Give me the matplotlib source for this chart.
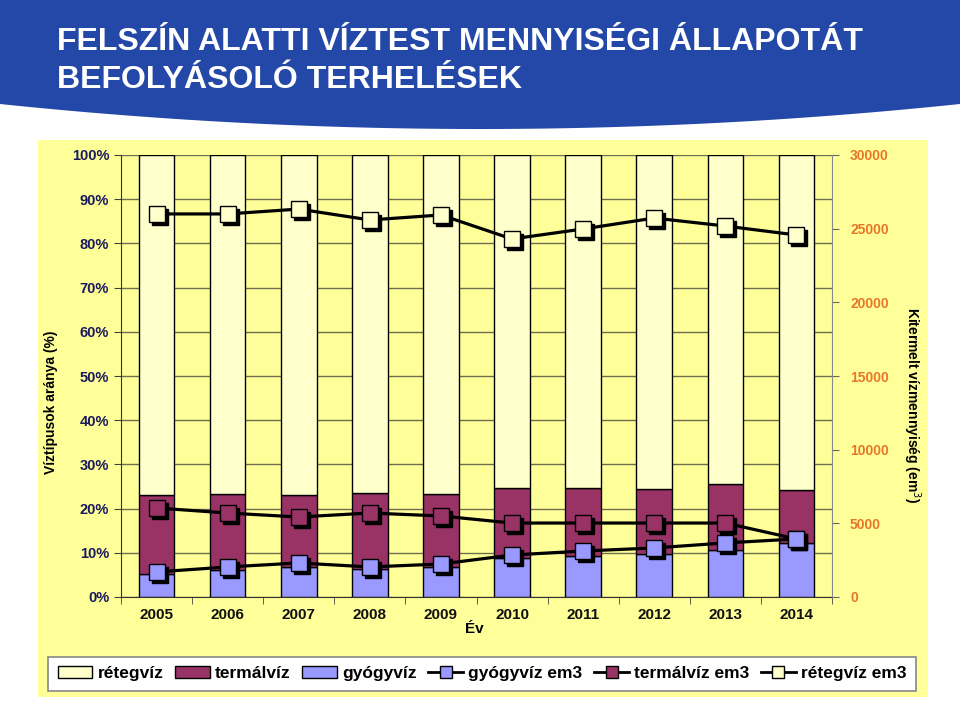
import matplotlib
matplotlib.use('Agg')
import matplotlib.pyplot as plt
import matplotlib.transforms as mtransforms
from matplotlib.patches import Rectangle, Patch
from matplotlib.lines import Line2D
import numpy as np

plt.rcParams['font.family'] = ['Liberation Sans', 'DejaVu Sans']

evek = ['2005', '2006', '2007', '2008', '2009', '2010', '2011', '2012', '2013', '2014']

# aranyok (%) - oszlopok
gyogyviz = [5.2, 6.1, 6.8, 6.3, 6.8, 8.8, 9.3, 9.7, 10.6, 12.2]
termalviz = [17.9, 17.2, 16.3, 17.2, 16.5, 15.9, 15.4, 14.7, 15.0, 12.0]
retegviz = [76.9, 76.7, 76.9, 76.5, 76.7, 75.3, 75.3, 75.6, 74.4, 75.8]

# kitermelt mennyiseg (em3) - vonalak
gyogy_em3 = [1700, 2040, 2310, 2040, 2240, 2850, 3120, 3330, 3670, 3940]
termal_em3 = [6040, 5700, 5430, 5700, 5500, 5020, 5020, 5020, 5020, 3940]
reteg_em3 = [26000, 26000, 26330, 25590, 25930, 24300, 24980, 25720, 25180, 24570]

c_reteg = '#FFFFCC'
c_termal = '#993366'
c_gyogy = '#9999FF'
c_hatter = '#FFFF99'
navy = '#1A1A5E'
narancs = '#E8762B'

fig = plt.figure(figsize=(9.6, 7.02), dpi=100)

#-------------- fejlec es hatter
bg = fig.add_axes([0, 0, 1, 1], zorder=-10)
bg.set_xlim(0, 960)
bg.set_ylim(702, 0)
bg.axis('off')
xx = np.linspace(0, 960, 300)
also_el = 104 + 25 * (1 - ((xx - 480) / 480) ** 2)
bg.fill_between(xx, 0, also_el, color='#2448A8', lw=0)
bg.add_patch(Rectangle((38, 140), 890, 557, color=c_hatter, lw=0))

fig.text(57 / 960, (702 - 50) / 702, 'FELSZÍN ALATTI VÍZTEST MENNYISÉGI ÁLLAPOTÁT',
         color='white', fontsize=23, fontweight='bold', va='baseline')
fig.text(57 / 960, (702 - 88) / 702, 'BEFOLYÁSOLÓ TERHELÉSEK',
         color='white', fontsize=23, fontweight='bold', va='baseline')

#-------------- oszlopok
ax = fig.add_axes([121 / 960, 105 / 702, 711 / 960, 442 / 702])
ax.set_facecolor(c_hatter)
x = np.arange(len(evek))
w = 0.5
also = np.array(gyogyviz)
ax.bar(x, gyogyviz, w, color=c_gyogy, edgecolor='black', lw=1, zorder=2)
ax.bar(x, termalviz, w, bottom=also, color=c_termal, edgecolor='black', lw=1, zorder=2)
also = also + np.array(termalviz)
ax.bar(x, retegviz, w, bottom=also, color=c_reteg, edgecolor='black', lw=1, zorder=2)

ax.set_xlim(-0.5, len(evek) - 0.5)
ax.set_ylim(0, 100)
ax.set_yticks(range(0, 101, 10))
ax.set_yticklabels([f'{v}%' for v in range(0, 101, 10)])
ax.yaxis.grid(True, color='#6E6E50', lw=1, zorder=0)
ax.set_axisbelow(True)
ax.set_xticks(x)
ax.set_xticklabels(evek)
ax.set_xticks(np.arange(-0.5, len(evek), 1), minor=True)
ax.tick_params(axis='x', which='major', length=0, pad=8, labelsize=11, labelcolor='#111111')
ax.tick_params(axis='x', which='minor', length=5, direction='out', color='#444444')
ax.tick_params(axis='y', length=5, color='#444444', labelsize=10.5, labelcolor=navy)
for t in ax.get_xticklabels() + ax.get_yticklabels():
    t.set_fontweight('bold')
for s in ['top', 'right']:
    ax.spines[s].set_visible(False)
ax.spines['left'].set_color('#333333')
ax.spines['bottom'].set_color('#333333')
ax.set_xlabel('Év', fontsize=11, fontweight='bold', labelpad=0, x=0.497)
ax.set_ylabel('Víztípusok aránya (%)', fontsize=10, fontweight='bold', labelpad=10, y=0.44)

#-------------- vonalak
ax2 = ax.twinx()
ax2.set_ylim(0, 30000)
ax2.set_yticks(range(0, 30001, 5000))
ax2.tick_params(axis='y', length=5, color='#666666', labelsize=10, labelcolor=narancs, pad=8)
for t in ax2.get_yticklabels():
    t.set_fontweight('bold')
for s in ['top', 'left', 'bottom']:
    ax2.spines[s].set_visible(False)
ax2.spines['right'].set_color('#888888')
ax2.set_ylabel('Kitermelt vízmennyiség (em$^3$)', fontsize=10, fontweight='bold',
               rotation=-90, labelpad=24, y=0.435)

arnyek = mtransforms.offset_copy(ax2.transData, fig=fig, x=3, y=-3, units='dots')
for adat, szin in [(reteg_em3, c_reteg), (termal_em3, c_termal), (gyogy_em3, c_gyogy)]:
    ax2.plot(x, adat, color='black', lw=2.3, zorder=3)
    ax2.plot(x, adat, ls='none', marker='s', ms=11, color='black', transform=arnyek, zorder=4)
    ax2.plot(x, adat, ls='none', marker='s', ms=11, mfc=szin, mec='black', mew=1, zorder=5)

#-------------- jelmagyarazat
kezek = [
    Patch(facecolor=c_reteg, edgecolor='black', label='rétegvíz'),
    Patch(facecolor=c_termal, edgecolor='black', label='termálvíz'),
    Patch(facecolor=c_gyogy, edgecolor='black', label='gyógyvíz'),
    Line2D([], [], color='black', lw=2, marker='s', ms=9, mfc=c_gyogy, mec='black', label='gyógyvíz em3'),
    Line2D([], [], color='black', lw=2, marker='s', ms=9, mfc=c_termal, mec='black', label='termálvíz em3'),
    Line2D([], [], color='black', lw=2, marker='s', ms=9, mfc=c_reteg, mec='black', label='rétegvíz em3'),
]
leg = fig.legend(handles=kezek, ncol=6, loc='lower left',
                 bbox_to_anchor=(48 / 960, (702 - 691) / 702, 868 / 960, 36 / 702),
                 mode='expand', fancybox=False, framealpha=1, edgecolor='#888888',
                 prop={'size': 12.5, 'weight': 'bold'}, handlelength=2.0, handletextpad=0.3,
                 columnspacing=0.8, borderaxespad=0, borderpad=0.55)
leg.get_frame().set_linewidth(1.2)

plt.savefig('out.png', dpi=100)
